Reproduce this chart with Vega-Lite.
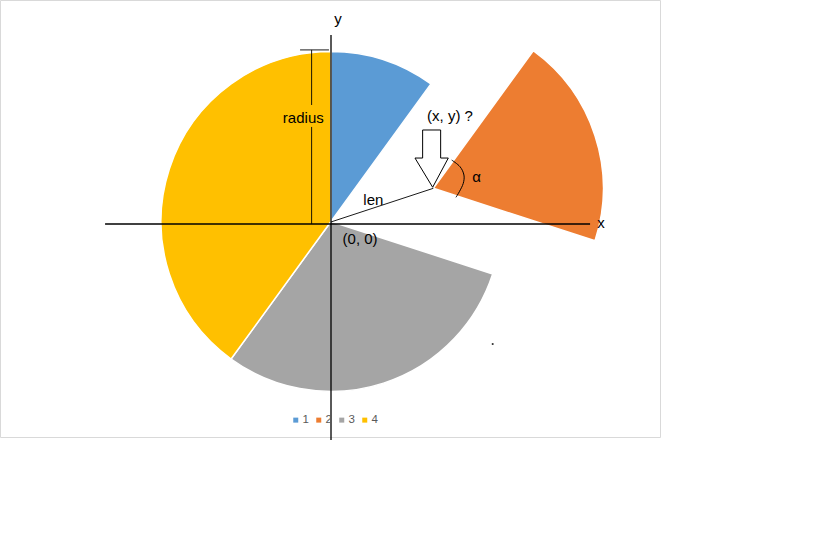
{
  "$schema": "https://vega.github.io/schema/vega-lite/v6.json",
  "width": 660,
  "height": 437,
  "autosize": "none",
  "padding": {"left": 0, "top": 0, "right": 168, "bottom": 100},
  "background": "#ffffff",
  "config": {"view": {"stroke": "#d9d9d9", "strokeWidth": 1}},
  "datasets": {
    "slices": [
      {"slice": "1", "value": 10, "cx": 0, "cy": 1.5},
      {"slice": "2", "value": 20, "cx": 60.2, "cy": 21.0},
      {"slice": "3", "value": 30, "cx": 0, "cy": 1.5},
      {"slice": "4", "value": 40, "cx": 0, "cy": 1.5}
    ],
    "axes": [
      {"name": "x axis", "x": -132.9, "y": 0, "x2": 152.4, "y2": 0},
      {"name": "y axis", "x": 0, "y": 111.2, "x2": 0, "y2": -127.1}
    ],
    "dims": [
      {"name": "radius cap", "x": -18.2, "y": 102.4, "x2": -1.2, "y2": 102.4},
      {"name": "radius upper", "x": -11.4, "y": 102.4, "x2": -11.4, "y2": 70.0},
      {"name": "radius lower", "x": -11.4, "y": 57.1, "x2": -11.4, "y2": 0},
      {"name": "len", "x": 0, "y": 1.2, "x2": 60.2, "y2": 21.0}
    ],
    "arrow": [
      {"i": 0, "x": 53.9, "y": 55.3},
      {"i": 1, "x": 64.5, "y": 55.3},
      {"i": 2, "x": 64.5, "y": 38.8},
      {"i": 3, "x": 69.0, "y": 38.8},
      {"i": 4, "x": 59.8, "y": 21.6},
      {"i": 5, "x": 49.4, "y": 38.8},
      {"i": 6, "x": 53.9, "y": 38.8},
      {"i": 7, "x": 53.9, "y": 55.3}
    ],
    "alpha": [
      {"i": 0, "x": 71.0, "y": 37.6},
      {"i": 1, "x": 75.9, "y": 33.7},
      {"i": 2, "x": 78.2, "y": 28.8},
      {"i": 3, "x": 77.8, "y": 23.9},
      {"i": 4, "x": 75.5, "y": 19.0},
      {"i": 5, "x": 73.5, "y": 15.7}
    ],
    "labels": [
      {"text": "y", "x": 4.1, "y": 120.6},
      {"text": "x", "x": 158.8, "y": 0.6},
      {"text": "radius", "x": -16.3, "y": 62.2},
      {"text": "(x, y) ?", "x": 70.0, "y": 63.5},
      {"text": "len", "x": 24.9, "y": 14.1},
      {"text": "α", "x": 85.7, "y": 27.6},
      {"text": "(0, 0)", "x": 17.1, "y": -9.0}
    ],
    "specks": [
      {"x": 95.1, "y": -70.6}
    ]
  },
  "layer": [
    {
      "data": {"name": "slices"},
      "transform": [
        {"stack": "value", "groupby": [], "sort": [{"field": "slice", "order": "ascending"}], "as": ["v0", "v1"]}
      ],
      "mark": {"type": "arc", "radius": 170, "stroke": "#ffffff", "strokeWidth": 1.5},
      "encoding": {
        "x": {"field": "cx", "type": "quantitative", "scale": {"domain": [-194.71, 193.53], "nice": false, "zero": false}, "axis": null},
        "y": {"field": "cy", "type": "quantitative", "scale": {"domain": [-125.29, 131.76], "nice": false, "zero": false}, "axis": null},
        "theta": {"field": "v0", "type": "quantitative", "scale": {"domain": [0, 100], "range": [0, 6.283185307]}},
        "theta2": {"field": "v1"},
        "color": {
          "field": "slice",
          "type": "nominal",
          "scale": {"domain": ["1", "2", "3", "4"], "range": ["#5b9bd5", "#ed7d31", "#a5a5a5", "#ffc000"]},
          "legend": {
            "orient": "none",
            "legendX": 290,
            "legendY": 414,
            "direction": "horizontal",
            "title": null,
            "symbolType": "square",
            "symbolSize": 25,
            "symbolStrokeWidth": 0,
            "labelFontSize": 11.5,
            "labelFont": "Liberation Sans",
            "labelColor": "#595959",
            "labelOffset": 1,
            "columnPadding": 4,
            "padding": 0
          }
        }
      }
    },
    {
      "data": {"name": "axes"},
      "mark": {"type": "rule", "color": "#000000", "strokeWidth": 1.3},
      "encoding": {
        "x": {"field": "x", "type": "quantitative", "scale": {"domain": [-194.71, 193.53], "nice": false, "zero": false}, "axis": null},
        "y": {"field": "y", "type": "quantitative", "scale": {"domain": [-125.29, 131.76], "nice": false, "zero": false}, "axis": null},
        "x2": {"field": "x2"},
        "y2": {"field": "y2"}
      }
    },
    {
      "data": {"name": "dims"},
      "mark": {"type": "rule", "color": "#000000", "strokeWidth": 0.9},
      "encoding": {
        "x": {"field": "x", "type": "quantitative", "scale": {"domain": [-194.71, 193.53], "nice": false, "zero": false}, "axis": null},
        "y": {"field": "y", "type": "quantitative", "scale": {"domain": [-125.29, 131.76], "nice": false, "zero": false}, "axis": null},
        "x2": {"field": "x2"},
        "y2": {"field": "y2"}
      }
    },
    {
      "data": {"name": "arrow"},
      "mark": {"type": "line", "color": "#000000", "strokeWidth": 1, "interpolate": "linear"},
      "encoding": {
        "x": {"field": "x", "type": "quantitative", "scale": {"domain": [-194.71, 193.53], "nice": false, "zero": false}, "axis": null},
        "y": {"field": "y", "type": "quantitative", "scale": {"domain": [-125.29, 131.76], "nice": false, "zero": false}, "axis": null},
        "order": {"field": "i", "type": "quantitative"}
      }
    },
    {
      "data": {"name": "alpha"},
      "mark": {"type": "line", "color": "#000000", "strokeWidth": 1, "interpolate": "cardinal"},
      "encoding": {
        "x": {"field": "x", "type": "quantitative", "scale": {"domain": [-194.71, 193.53], "nice": false, "zero": false}, "axis": null},
        "y": {"field": "y", "type": "quantitative", "scale": {"domain": [-125.29, 131.76], "nice": false, "zero": false}, "axis": null},
        "order": {"field": "i", "type": "quantitative"}
      }
    },
    {
      "data": {"name": "labels"},
      "mark": {"type": "text", "font": "Liberation Sans", "fontSize": 15, "color": "#000000", "align": "center", "baseline": "middle"},
      "encoding": {
        "x": {"field": "x", "type": "quantitative", "scale": {"domain": [-194.71, 193.53], "nice": false, "zero": false}, "axis": null},
        "y": {"field": "y", "type": "quantitative", "scale": {"domain": [-125.29, 131.76], "nice": false, "zero": false}, "axis": null},
        "text": {"field": "text", "type": "nominal"}
      }
    },
    {
      "data": {"name": "specks"},
      "mark": {"type": "point", "shape": "square", "size": 3, "filled": true, "color": "#222222", "opacity": 1},
      "encoding": {
        "x": {"field": "x", "type": "quantitative", "scale": {"domain": [-194.71, 193.53], "nice": false, "zero": false}, "axis": null},
        "y": {"field": "y", "type": "quantitative", "scale": {"domain": [-125.29, 131.76], "nice": false, "zero": false}, "axis": null}
      }
    }
  ]
}
